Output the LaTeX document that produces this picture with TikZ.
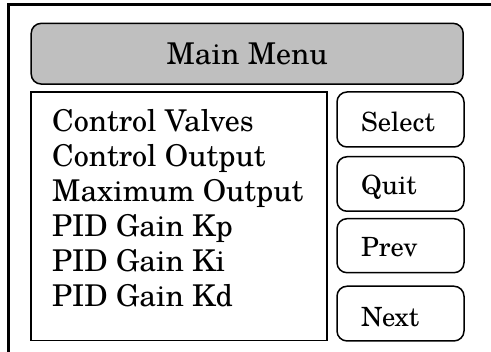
\documentclass[tikz,border=0pt]{standalone}
\usepackage{fontspec}
\setmainfont{TeX Gyre Schola}
\begin{document}
\begin{tikzpicture}[x=1pt,y=-1pt,
  frame/.style={line width=2.5pt},
  titlebox/.style={draw, line width=1.5pt, fill=black!25, rounded corners=10pt, inner sep=0pt},
  listbox/.style={draw, line width=1.5pt, inner sep=0pt},
  btn/.style={draw, line width=1.5pt, rounded corners=10pt, inner sep=0pt, minimum width=127pt},
  big/.style={font=\fontsize{30}{36}\selectfont, inner sep=0pt},
  small/.style={font=\fontsize{26.5}{32}\selectfont, inner sep=0pt}]
\useasboundingbox (0,0) rectangle (491,352);
\coordinate (fb) at (8.7,352);
\coordinate (fc) at (8.7,4.5);
\coordinate (fr) at (491,4.5);
\draw[frame] (fb) -- (fc) -- (fr);
\node[titlebox, minimum width=432pt, minimum height=60.7pt] (title) at (247.2,53.7) {};
\node[big, anchor=base] (titleT) at (247.2,65) {Main Menu};
\node[listbox, minimum width=296pt, minimum height=248.5pt] (list) at (179,216.2) {};
\node[big, anchor=base west] (l1) at (52,131.7) {Control Valves};
\node[big, anchor=base west] (l2) at (52,166.7) {Control Output};
\node[big, anchor=base west] (l3) at (52,201.7) {Maximum Output};
\node[big, anchor=base west] (l4) at (52,237) {PID Gain Kp};
\node[big, anchor=base west] (l5) at (52,272) {PID Gain Ki};
\node[big, anchor=base west] (l6) at (52,307) {PID Gain Kd};
\node[btn, minimum height=55pt] (sel) at (400.5,119.5) {};
\node[btn, minimum height=54.5pt] (quit) at (400.5,184) {};
\node[btn, minimum height=54pt] (prev) at (400.5,245.7) {};
\node[btn, minimum height=54.7pt] (next) at (400.5,313.6) {};
\node[small, anchor=base west] (selT) at (361,131.7) {Select};
\node[small, anchor=base west] (quitT) at (361,195) {Quit};
\node[small, anchor=base west] (prevT) at (361,257) {Prev};
\node[small, anchor=base west] (nextT) at (361,326.7) {Next};
\end{tikzpicture}
\end{document}
